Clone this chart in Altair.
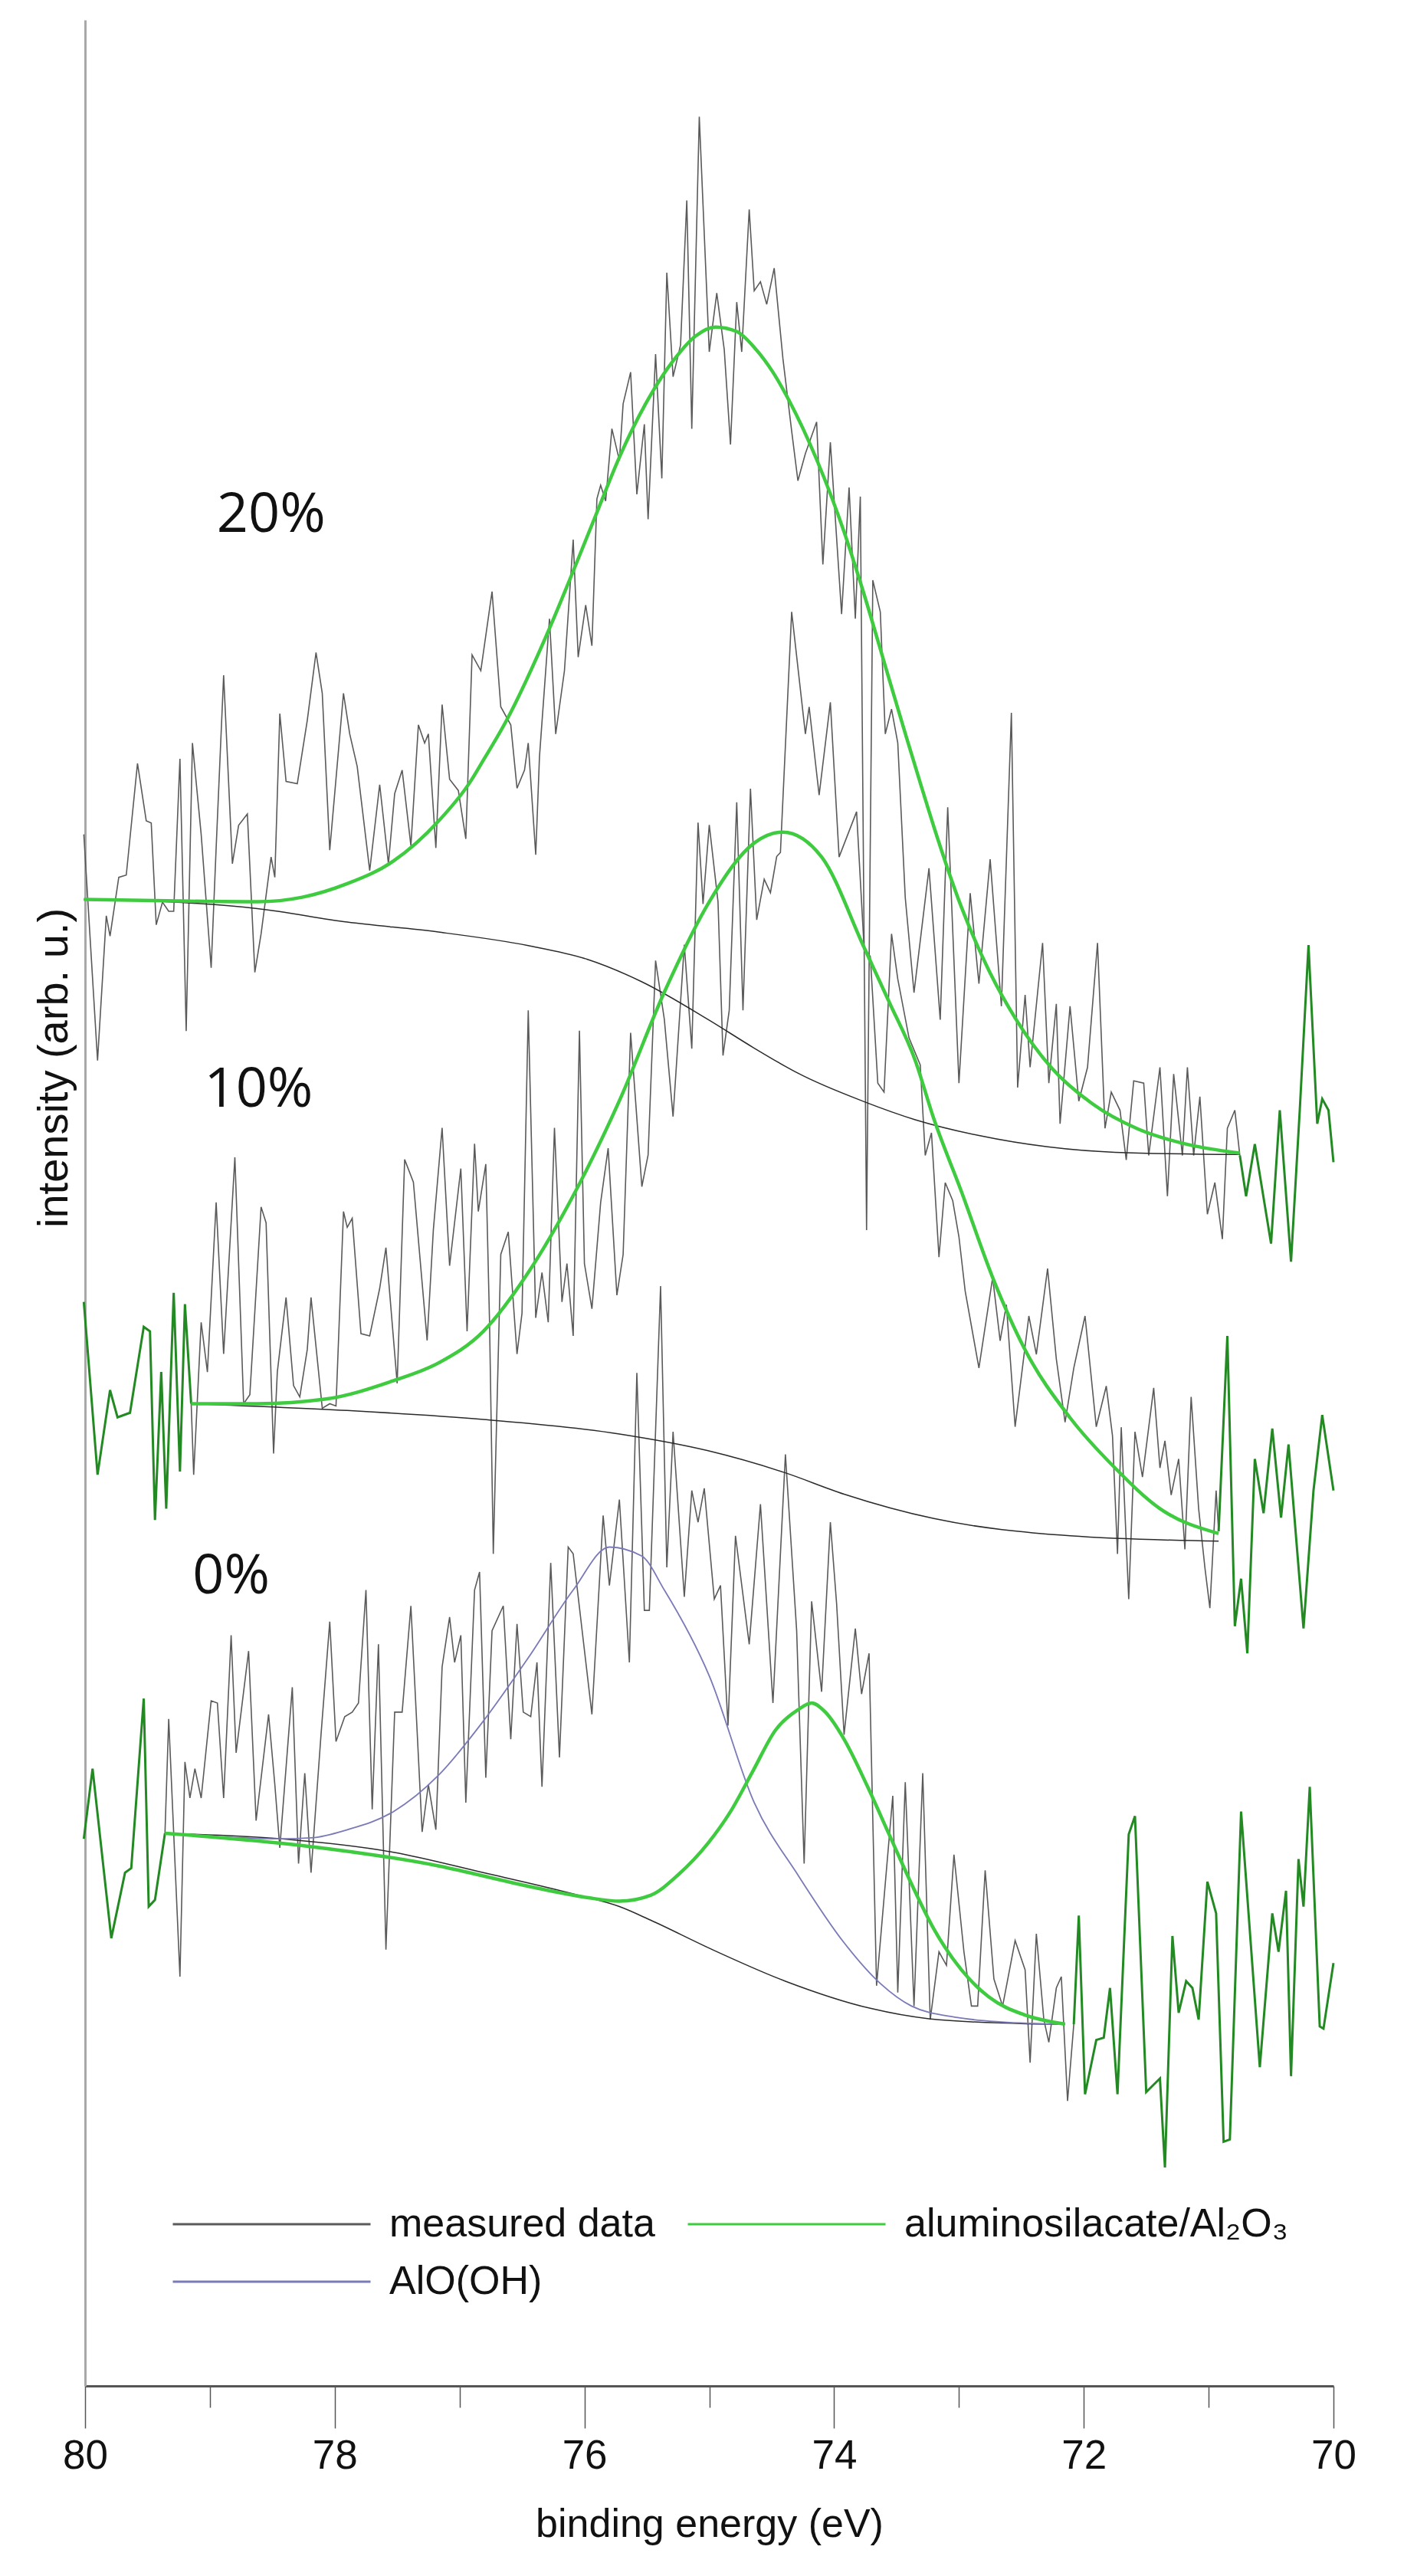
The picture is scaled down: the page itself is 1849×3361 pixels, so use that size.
import altair as alt
import pandas as pd

# ---------------- measured data (binding energy in eV, intensity in arb. u.) ----------------
meas20_E = [80.01,79.90,79.83,79.80,79.73,79.67,79.58,79.51,79.47,79.43,79.38,79.33,79.29,79.24,79.19,79.14,79.07,78.99,78.95,78.89,
            78.82,78.77,78.70,78.64,78.59,78.51,78.48,78.44,78.39,78.30,78.22,78.15,78.10,78.04,77.93,77.88,77.82,77.72,77.64,77.57,
            77.52,77.46,77.39,77.33,77.28,77.25,77.19,77.14,77.08,77.01,76.95,76.90,76.83,76.74,76.67,76.59,76.54,76.48,76.45,76.39,
            76.36,76.28,76.23,76.16,76.09,76.05,75.99,75.94,75.90,75.87,75.83,75.78,75.72,75.69,75.63,75.58,75.52,75.49,75.43,75.38,
            75.34,75.29,75.23,75.18,75.14,75.08,75.00,74.94,74.88,74.83,74.78,74.74,74.68,74.64,74.59,74.54,74.48,74.41,74.34,74.29,
            74.23,74.14,74.09,74.03,73.94,73.88,73.83,73.79,73.74,73.69,73.63,73.59,73.54,73.49,73.43,73.36,73.24,73.15,73.09,73.00,
            72.91,72.84,72.75,72.66,72.58,72.53,72.47,72.43,72.33,72.28,72.22,72.19,72.11,72.04,71.97,71.89,71.83,71.78,71.71,71.66,
            71.60,71.52,71.48,71.39,71.33,71.28,71.21,71.17,71.12,71.07,71.01,70.95,70.89,70.85,70.79,70.75]
meas20_V = [3431,2931,3251,3206,3336,3341,3588,3461,3456,3231,3281,3261,3261,3598,2996,3633,3431,3136,3401,3783,
            3366,3451,3476,3126,3211,3381,3336,3698,3548,3543,3683,3833,3743,3396,3743,3653,3581,3351,3541,3366,
            3521,3573,3406,3673,3633,3653,3401,3718,3553,3528,3421,3828,3793,3968,3713,3673,3533,3573,3633,3386,
            3603,3908,3653,3793,4083,3823,3938,3848,4173,4203,4168,4328,4258,4383,4453,4183,4338,4128,4493,4218,
            4673,4443,4513,4833,4328,5018,4498,4628,4503,4293,4608,4498,4813,4633,4653,4603,4683,4483,4323,4213,
            4273,4343,4028,4298,3918,4198,3908,4178,2556,3993,3923,3653,3708,3633,3291,3081,3356,3021,3491,2881,
            3301,3101,3376,3051,3700,2871,3076,2916,3191,2881,3056,2791,3051,2841,2916,3191,2781,2861,2821,2711,
            2886,2881,2721,2916,2631,2901,2721,2916,2721,2851,2591,2661,2536,2781,2821,2721]

meas10_E = [79.15,79.13,79.07,79.02,78.95,78.89,78.80,78.73,78.68,78.59,78.55,78.49,78.46,78.39,78.33,78.28,78.22,78.19,78.10,78.04,
            77.99,77.93,77.90,77.86,77.79,77.72,77.64,77.59,77.50,77.44,77.37,77.26,77.21,77.14,77.08,76.99,76.94,76.88,76.85,76.79,
            76.76,76.73,76.67,76.61,76.54,76.50,76.45,76.39,76.34,76.29,76.24,76.18,76.14,76.09,76.04,76.00,75.94,75.87,75.81,75.74,
            75.69,75.63,75.54,75.49,75.43,75.36,75.29,75.20,75.14,75.09,75.05,75.00,74.93,74.89,74.84,74.78,74.73,74.67,74.62,74.56,
            74.51,74.46,74.43,74.34,74.23,74.20,74.12,74.03,73.96,73.89,73.82,73.76,73.71,73.65,73.60,73.54,73.49,73.40,73.31,73.27,
            73.22,73.16,73.11,73.05,73.00,72.95,72.84,72.73,72.67,72.62,72.55,72.44,72.38,72.29,72.22,72.15,72.08,71.99,71.90,71.82,
            71.77,71.73,71.70,71.64,71.59,71.53,71.44,71.39,71.35,71.30,71.24,71.19,71.14,71.08,71.03,70.99,70.94,70.92]
meas10_V = [2172,2015,2352,2242,2617,2282,2717,2172,2192,2607,2572,2062,2242,2407,2212,2187,2292,2407,2162,2172,
            2167,2597,2562,2582,2327,2322,2427,2517,2217,2712,2662,2312,2557,2782,2477,2692,2332,2747,2597,2702,
            2352,1840,2502,2552,2282,2372,3042,2362,2462,2352,2782,2397,2482,2322,2997,2482,2382,2617,2737,2412,
            2502,2992,2652,2722,3152,3022,2807,3187,2957,3457,3277,3452,3282,2942,3042,3502,3042,3532,3242,3332,
            3302,3382,3391,3923,3653,3713,3518,3723,3381,3431,3481,3181,3161,2881,2861,3211,3111,2981,2921,2721,
            2771,2496,2661,2621,2541,2421,2251,2451,2311,2391,2121,2366,2281,2471,2271,2131,2251,2366,2121,2211,
            2101,1840,2120,1740,2110,2010,2207,2030,2090,1970,2050,1850,2187,1940,1810,1720,1980,1890]

meas0_E = [79.36,79.33,79.24,79.20,79.16,79.12,79.07,78.99,78.94,78.89,78.83,78.79,78.69,78.63,78.53,78.48,78.44,78.34,78.29,78.24,
           78.19,78.11,78.04,77.99,77.92,77.86,77.81,77.75,77.70,77.65,77.59,77.52,77.46,77.39,77.30,77.25,77.19,77.14,77.08,77.04,
           76.99,76.95,76.88,76.84,76.79,76.74,76.65,76.59,76.54,76.49,76.43,76.38,76.34,76.27,76.20,76.13,76.09,75.94,75.85,75.80,
           75.72,75.64,75.58,75.52,75.48,75.39,75.34,75.29,75.20,75.14,75.09,75.04,74.96,74.91,74.85,74.79,74.68,74.59,74.49,74.39,
           74.30,74.24,74.18,74.10,74.03,73.98,73.92,73.83,73.78,73.72,73.66,73.53,73.49,73.43,73.36,73.29,73.23,73.16,73.10,73.04,
           72.96,72.90,72.85,72.79,72.72,72.65,72.55,72.47,72.43,72.38,72.32,72.28,72.22,72.18,72.13,72.08]
meas0_V = [1222,1475,905,1380,1300,1365,1300,1515,1510,1300,1660,1400,1625,1250,1485,1330,1190,1545,1155,1355,
           1135,1440,1690,1425,1480,1490,1510,1760,1275,1640,965,1490,1490,1725,1225,1330,1230,1590,1700,1600,
           1660,1290,1760,1800,1345,1670,1725,1430,1685,1490,1480,1600,1325,1820,1390,1855,1840,1485,1925,1770,
           1960,1600,2240,1715,1715,2432,1810,2110,1745,1980,1910,1985,1740,1770,1460,1880,1640,1950,1510,2060,
           1670,1155,1735,1535,1910,1730,1440,1675,1530,1620,885,1305,870,1335,840,1355,810,960,930,1175,
           960,840,840,1140,900,840,985,920,715,1000,810,760,880,905,630,800]

# measured data outside the fitted range (dark green)
out20r_E = [70.75,70.70,70.63,70.50,70.43,70.34,70.27,70.20,70.13,70.09,70.04,70.00]
out20r_V = [2721,2631,2746,2526,2821,2486,2821,3186,2791,2846,2821,2706]
out10l_E = [80.01,79.90,79.80,79.74,79.64,79.53,79.48,79.44,79.39,79.35,79.29,79.24,79.20,79.15]
out10l_V = [2397,2015,2202,2142,2152,2342,2332,1915,2242,1940,2417,2022,2392,2172]
out10r_E = [70.92,70.85,70.79,70.74,70.69,70.63,70.56,70.49,70.42,70.36,70.24,70.16,70.09,70.00]
out10r_V = [1890,2322,1680,1785,1620,2050,1930,2117,1920,2082,1675,1980,2147,1980]
out0l_E = [80.01,79.94,79.79,79.68,79.63,79.53,79.49,79.44,79.36]
out0l_V = [1210,1365,990,1135,1145,1520,1060,1075,1222]
out0r_E = [72.08,72.04,71.99,71.90,71.84,71.79,71.73,71.64,71.59,71.50,71.39,71.35,71.29,71.24,71.18,71.13,71.08,71.01,70.94,
           70.88,70.83,70.74,70.59,70.49,70.44,70.38,70.34,70.28,70.24,70.19,70.11,70.08,70.00]
out0r_V = [800,1040,645,765,770,880,645,1220,1260,650,680,483,995,825,895,880,810,1115,1045,
           540,545,1270,705,1045,960,1095,685,1165,1060,1325,795,790,935]

# ---------------- fits ----------------
fit20_E = [80.01,79.35,78.62,78.26,77.90,77.53,77.17,76.92,76.81,76.63,76.27,76.09,75.90,75.72,75.51,75.29,75.11,74.95,
           74.78,74.64,74.49,74.36,74.14,73.92,73.78,73.56,73.42,73.31,73.20,72.98,72.76,72.55,72.26,71.93,71.57,71.21,70.75]
fit20_V = [3287,3284,3282,3292,3322,3372,3460,3545,3595,3680,3893,4013,4143,4265,4383,4478,4533,4553,
           4543,4508,4453,4390,4260,4100,3980,3775,3645,3545,3447,3270,3130,3025,2915,2835,2780,2748,2726]
bg20_E = [80.01,79.35,78.62,77.90,77.17,76.45,75.98,75.54,75.00,74.65,74.39,74.29,73.76,73.35,72.84,72.29,71.75,70.75]
bg20_V = [3287,3282,3267,3237,3215,3185,3155,3105,3020,2960,2918,2903,2840,2800,2765,2740,2728,2723]

fit10_E = [79.15,78.62,78.08,77.54,77.17,76.81,76.45,76.09,75.72,75.36,75.00,74.64,74.41,74.10,73.76,73.56,73.35,73.20,
           72.98,72.73,72.47,72.11,71.75,71.39,70.92]
fit10_V = [2172,2172,2182,2222,2262,2332,2462,2632,2842,3082,3282,3412,3436,3381,3181,3061,2931,2801,
           2641,2451,2291,2141,2030,1940,1885]
bg10_E = [79.15,77.90,76.81,75.72,75.01,74.40,73.92,73.20,72.11,70.92]
bg10_V = [2172,2157,2137,2105,2068,2020,1972,1918,1880,1868]

fit0_E = [79.36,78.26,77.17,76.45,75.98,75.72,75.47,75.25,75.01,74.83,74.65,74.47,74.29,74.18,74.07,73.92,73.74,73.56,
          73.38,73.20,72.98,72.76,72.47,72.15]
fit0_V = [1222,1195,1150,1105,1080,1072,1085,1130,1200,1270,1360,1450,1495,1510,1490,1430,1330,1220,
          1110,1010,920,860,820,800]
aloh0_E = [79.36,78.44,78.19,77.90,77.53,77.17,76.81,76.45,76.09,75.80,75.54,75.36,75.00,74.64,74.29,73.92,73.63,73.38,
           73.02,72.66,72.15]
aloh0_V = [1222,1210,1212,1230,1270,1350,1470,1610,1760,1855,1835,1760,1570,1290,1130,980,890,840,
           815,805,800]
bg0_E = [79.36,78.44,77.53,76.81,76.09,75.72,75.47,75.00,74.39,73.71,73.24,72.47,72.15]
bg0_V = [1222,1210,1180,1135,1088,1060,1030,968,895,835,812,801,800]

# labels
sample_labels = ["20%", "10%", "0%"]
sample_label_E = [78.51, 78.61, 78.83]
sample_label_V = [4137, 2866, 1790]

# legend order: column-major fill puts AlO(OH) under measured data
series_names = ["measured data", "AlO(OH)", "aluminosilacate/Al\u2082O\u2083"]
series_colors = ["#5a5a5a", "#7a7ab8", "#3fcb3f"]
tick_values = list(range(70, 81))


def frame(E, V, group, series=None):
    d = pd.DataFrame({"E": E, "V": V, "g": group})
    if series is not None:
        d["series"] = series
    return d


MEAS, ALOH, ALU = series_names
measured = pd.concat([frame(meas20_E, meas20_V, "20", MEAS),
                      frame(meas10_E, meas10_V, "10", MEAS),
                      frame(meas0_E, meas0_V, "0", MEAS)])
outside = pd.concat([frame(out20r_E, out20r_V, "20r"), frame(out10l_E, out10l_V, "10l"),
                     frame(out10r_E, out10r_V, "10r"), frame(out0l_E, out0l_V, "0l"),
                     frame(out0r_E, out0r_V, "0r")])
backgrounds = pd.concat([frame(bg20_E, bg20_V, "20"), frame(bg10_E, bg10_V, "10"), frame(bg0_E, bg0_V, "0")])
fits = pd.concat([frame(fit20_E, fit20_V, "20", ALU),
                  frame(fit10_E, fit10_V, "10", ALU),
                  frame(fit0_E, fit0_V, "0", ALU)])
aloh = frame(aloh0_E, aloh0_V, "0", ALOH)
labels_df = pd.DataFrame({"E": sample_label_E, "V": sample_label_V, "t": sample_labels})

FONT = "Liberation Sans"

x_enc = alt.X("E:Q",
              scale=alt.Scale(domain=[70, 80], reverse=True, nice=False, zero=False),
              axis=alt.Axis(values=tick_values,
                            labelExpr="datum.value % 2 === 0 ? datum.label : ''",
                            tickSize={"condition": {"test": "datum.value % 2 === 0", "value": 55}, "value": 28},
                            tickColor="#555555", tickWidth=1.5,
                            domainColor="#555555", domainWidth=3,
                            labelFont=FONT, labelFontSize=53, labelColor="#111111",
                            labelPadding=10, labelFlush=False, labelOverlap=False,
                            grid=False,
                            title="binding energy (eV)", titleFont=FONT, titleFontSize=52,
                            titleFontWeight="normal", titleColor="#111111",
                            titleY=180, titleBaseline="middle"))
y_enc = alt.Y("V:Q",
              scale=alt.Scale(domain=[0, 5232], nice=False, zero=False),
              axis=alt.Axis(ticks=False, labels=False, grid=False,
                            domainColor="#a8a8a8", domainWidth=3,
                            title="intensity (arb. u.)", titleFont=FONT, titleFontSize=56,
                            titleFontWeight="normal", titleColor="#111111",
                            titleX=-41, titleY=1367, titleAngle=270,
                            titleAlign="center", titleBaseline="middle"))

color_enc = alt.Color("series:N",
                      scale=alt.Scale(domain=series_names, range=series_colors),
                      legend=alt.Legend(title=None, orient="none", legendX=113, legendY=2851,
                                        columns=2, symbolType="stroke", symbolSize=66564,
                                        symbolStrokeWidth=3, labelFont=FONT, labelFontSize=52,
                                        labelColor="#111111", labelOffset=23, labelLimit=2000,
                                        columnPadding=41, rowPadding=23, clipHeight=50, padding=0))

measured_layer = alt.Chart(measured).mark_line(strokeWidth=1.6).encode(
    x=x_enc, y=y_enc, color=color_enc, detail="g:N")
outside_layer = alt.Chart(outside).mark_line(strokeWidth=3, color="#238a23").encode(
    x=x_enc, y=y_enc, detail="g:N")
bg_layer = alt.Chart(backgrounds).mark_line(strokeWidth=1.5, color="#2a2a2a", interpolate="monotone").encode(
    x=x_enc, y=y_enc, detail="g:N")
aloh_layer = alt.Chart(aloh).mark_line(strokeWidth=1.8, interpolate="monotone").encode(
    x=x_enc, y=y_enc, color=color_enc, detail="g:N")
fit_layer = alt.Chart(fits).mark_line(strokeWidth=4.5, interpolate="monotone").encode(
    x=x_enc, y=y_enc, color=color_enc, detail="g:N")
text_layer = alt.Chart(labels_df).mark_text(font="Open Sans", fontSize=72, color="#111111",
                                            align="center", baseline="middle").encode(
    x=x_enc, y=y_enc, text="t:N")

chart = alt.layer(measured_layer, outside_layer, bg_layer, aloh_layer, fit_layer, text_layer).properties(
    width=1629, height=3087,
    autosize=alt.AutoSizeParams(type="none"),
    padding={"left": 103, "top": 18, "right": 101, "bottom": 240},
).configure(
    font=FONT,
    style={"cell": {"stroke": "transparent", "strokeWidth": 0}},
).configure_view(stroke=None, strokeWidth=0)

chart.save("out.html", embed_options={"renderer": "svg", "actions": False})
